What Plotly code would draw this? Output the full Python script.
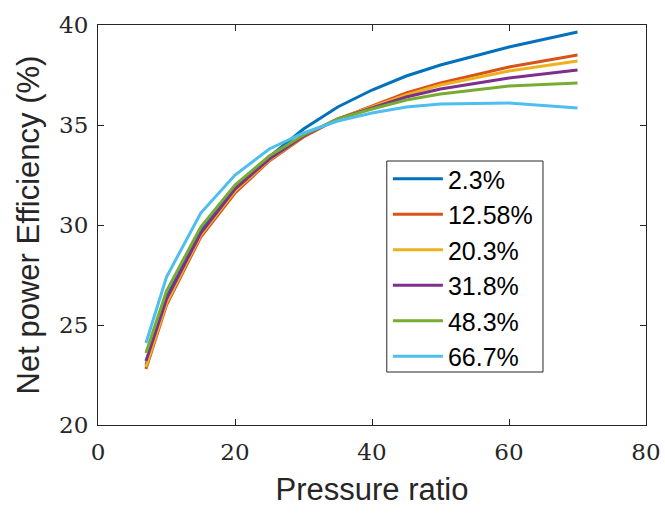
import plotly.graph_objects as go

pressure_ratio = [7, 10, 15, 20, 25, 30, 35, 40, 45, 50, 60, 70]
labels = ["2.3%", "12.58%", "20.3%", "31.8%", "48.3%", "66.7%"]
eff_2_3 = [23.0, 26.4, 29.7, 31.9, 33.4, 34.8, 35.9, 36.75, 37.45, 38.0, 38.9, 39.65]
eff_12_58 = [22.8, 26.0, 29.4, 31.6, 33.2, 34.4, 35.3, 35.95, 36.6, 37.1, 37.9, 38.5]
eff_20_3 = [22.9, 26.1, 29.5, 31.7, 33.25, 34.45, 35.3, 35.9, 36.5, 37.0, 37.7, 38.2]
eff_31_8 = [23.2, 26.3, 29.6, 31.8, 33.3, 34.45, 35.3, 35.85, 36.4, 36.8, 37.35, 37.75]
eff_48_3 = [23.6, 26.7, 29.9, 32.0, 33.45, 34.5, 35.3, 35.8, 36.25, 36.55, 36.95, 37.1]
eff_66_7 = [24.1, 27.4, 30.6, 32.5, 33.8, 34.6, 35.2, 35.6, 35.9, 36.05, 36.1, 35.85]
colors = ["#0072BD", "#D95319", "#EDB120", "#7E2F8E", "#77AC30", "#4DBEEE"]

series = [eff_2_3, eff_12_58, eff_20_3, eff_31_8, eff_48_3, eff_66_7]

fig = go.Figure()
for name, ys, c in zip(labels, series, colors):
    fig.add_trace(go.Scatter(x=pressure_ratio, y=ys, mode="lines", name=name,
                             line=dict(color=c, width=3)))

axis_common = dict(showline=True, linecolor="#262626", linewidth=1, mirror="ticks",
                   ticks="inside", ticklen=6, tickcolor="#262626", showgrid=False,
                   zeroline=False, automargin=False,
                   tickfont=dict(family="DejaVu Serif", size=23, color="#262626"))
fig.update_xaxes(range=[0, 80], tickvals=[0, 20, 40, 60, 80], ticklabelstandoff=6,
                 title=dict(text="Pressure ratio", font=dict(family="Liberation Sans", size=31, color="#262626"), standoff=14),
                 **axis_common)
fig.update_yaxes(range=[20, 40], tickvals=[20, 25, 30, 35, 40], ticklabelstandoff=4,
                 title=dict(text="Net power Efficiency (%)", font=dict(family="Liberation Sans", size=31, color="#262626"), standoff=10),
                 **axis_common)

# legend frame (paper coordinates)
fig.add_shape(type="rect", xref="paper", yref="paper",
              x0=0.527, x1=0.812, y0=0.1325, y1=0.66,
              line=dict(color="#262626", width=1), fillcolor="rgba(0,0,0,0)", layer="above")

fig.update_layout(
    width=665, height=513,
    margin=dict(l=98, r=19, t=25, b=88),
    plot_bgcolor="white", paper_bgcolor="white",
    legend=dict(x=0.529, y=0.6725, xanchor="left", yanchor="top",
                borderwidth=0, bgcolor="rgba(0,0,0,0)",
                font=dict(family="Liberation Sans", size=25, color="black"),
                itemwidth=50, tracegroupgap=0),
)
fig.write_html("out.html", config={"displayModeBar": False},
               post_script="document.body.style.margin='0';document.body.style.overflow='hidden';")
